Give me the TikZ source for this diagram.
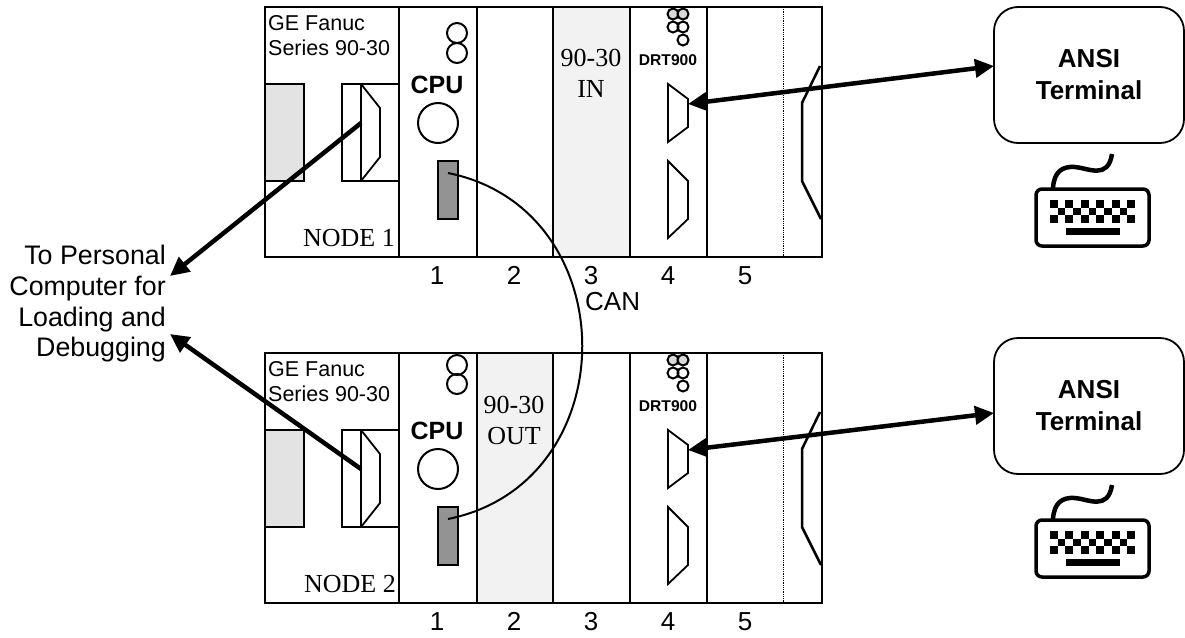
\documentclass[tikz,border=0pt]{standalone}
\usepackage{fontspec}
\setmainfont{Liberation Sans}
\newfontfamily\timesfont{Liberation Serif}
\usetikzlibrary{arrows.meta}
\tikzset{
  frameline/.style={line width=2.5},
  portline/.style={line width=1.8},
  thickarrow/.style={line width=4.5, -{Triangle[length=19,width=18]}},
  thickboth/.style={line width=4.5, {Triangle[length=19,width=18]}-{Triangle[length=19,width=18]}},
  label/.style={inner sep=0, anchor=base, font=\fontsize{26}{31}\selectfont},
  serifin/.style={inner sep=0, anchor=base, align=center, font=\timesfont\fontsize{26}{31}\selectfont},
  terminal/.style={draw, line width=1.8, rounded corners=24, minimum width=190, minimum height=136,
    inner sep=0, align=center, font=\bfseries\fontsize{26}{32}\selectfont},
}
\begin{document}
\begin{tikzpicture}[x=1pt,y=-1pt]
\useasboundingbox (0,0) rectangle (1185,637);
% slot shading
\fill[gray!10] (553,7) rectangle (630,257);
\fill[gray!10] (477,353) rectangle (553,603);
% the two racks
\foreach \off/\n in {0/1,346/2} {
\begin{scope}[yshift=-\off]
\draw[frameline,fill=gray!22] (265,84) rectangle (304,181);
\draw[frameline] (342,84) rectangle (399,181);
\draw[frameline] (361,84) -- (361,181);
\draw[portline] (361,84) -- (380,108) -- (380,157) -- (361,181);
\draw[frameline] (265,7) rectangle (822,257);
\foreach \x in {399,477,553,630,707} {
  \draw[frameline] (\x,7) -- (\x,257);
}
\draw[densely dotted, line width=0.8] (783,7) -- (783,257);
\node[inner sep=0, anchor=north west, align=left, font=\fontsize{21.5}{25}\selectfont] (title\n) at (268,15) {GE Fanuc\\Series 90-30};
\node[label, font=\bfseries\fontsize{25}{30}\selectfont] (cpu\n) at (437,93) {CPU};
\draw[line width=2] (438,123) circle [radius=20];
\draw[frameline,fill=gray!85!white] (438,161) rectangle (458,219);
\coordinate (can\n) at (448,173);
\node[label, font=\bfseries\fontsize{15.6}{18}\selectfont] (drt\n) at (668,65) {DRT900};
\draw[line width=2,fill=gray!30] (673,14) circle [radius=5.5];
\draw[line width=2,fill=gray!30] (683,14) circle [radius=5.5];
\draw[line width=2] (673,27) circle [radius=5.5];
\draw[line width=2] (683,27) circle [radius=5.5];
\draw[line width=2] (683,40) circle [radius=5.5];
\draw[portline] (668,84) -- (688,99) -- (688,127) -- (668,142) -- cycle;
\draw[portline] (668,161) -- (688,181) -- (688,219) -- (668,238) -- cycle;
\draw[frameline] (820,66) -- (802,103) -- (802,181) -- (821,219);
\coordinate (plug\n) at (361,123);
\coordinate (port\n) at (688,104);
\foreach \x/\k in {437/1,514/2,591/3,668/4,745/5} {
  \node[label] (num\n\k) at (\x,284) {\k};
}
\end{scope}
}
% CPU lamps do not sit alike in the racks
\draw[line width=2] (457,33) circle [radius=10];
\draw[line width=2] (457,53) circle [radius=10];
\draw[line width=2] (457,365) circle [radius=10];
\draw[line width=2] (457,384) circle [radius=10];
% rack texts
\node[serifin] (nodeone) at (349,246) {NODE 1};
\node[serifin] (nodetwo) at (350,592) {NODE 2};
\node[serifin, anchor=north] (slotin) at (591,49) {90-30\\IN};
\node[serifin, anchor=north] (slotout) at (514,396) {90-30\\OUT};
\node[label, anchor=base west] (canlabel) at (585,310) {CAN};
\node[label, anchor=east, align=right, font=\fontsize{26.8}{30.7}\selectfont] (pc) at (166,304) {To Personal\\Computer for\\Loading and\\Debugging};
\coordinate (pcin1) at (170,276);
\coordinate (pcin2) at (170,334);
% terminals and keyboards
\foreach \off/\n in {0/1,331/2} {
\begin{scope}[yshift=-\off]
\node[terminal] (term\n) at (1089,75) {ANSI\\Terminal};
\draw[rounded corners=6, line width=3.5] (1036,189) rectangle (1149,246);
\draw[line width=4.5] (1053,188) .. controls (1054,172) and (1062,166) .. (1075,167)
  .. controls (1088,168) and (1108,180) .. (1112,154);
\foreach \c in {0,2,...,10} {
  \fill ({1050+\c*7.73},200) rectangle +(7.73,7.67);
  \fill ({1050+\c*7.73},215.33) rectangle +(7.73,7.67);
}
\foreach \c in {1,3,...,9} {
  \fill ({1050+\c*7.73},207.67) rectangle +(7.73,7.67);
}
\fill (1066,228) rectangle (1120,235);
\end{scope}
}
\coordinate (termin1) at (994,66);
\coordinate (termin2) at (994,413);
% connectors
\draw[thickboth] (port1) -- (termin1);
\draw[thickboth] (port2) -- (termin2);
\draw[thickarrow] (plug1) -- (pcin1);
\draw[thickarrow] (plug2) -- (pcin2);
\draw[line width=2] (can1) .. controls (627,209) and (627,483) .. (can2);
\end{tikzpicture}
\end{document}
